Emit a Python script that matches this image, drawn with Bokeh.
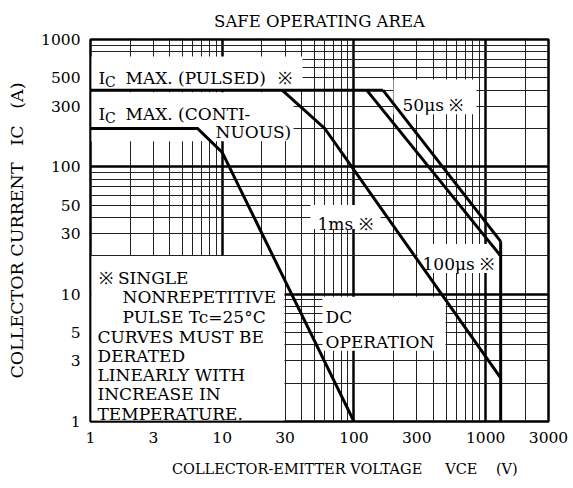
import math
from bokeh.plotting import figure
from bokeh.models import FixedTicker, CustomJSTickFormatter, Label
from bokeh.embed import file_html
from bokeh.resources import INLINE

# ---------------- data ----------------
x_ticks = [1, 3, 10, 30, 100, 300, 1000, 3000]
y_ticks = [1, 3, 5, 10, 30, 50, 100, 300, 500, 1000]
x_major_grid = [1, 10, 100, 1000]
x_minor_grid = [2, 3, 4, 5, 6, 7, 8, 9, 20, 30, 40, 50, 60, 70, 80, 90,
                200, 300, 400, 500, 600, 700, 800, 900, 2000]
y_major_grid = [1, 10, 100, 1000]
y_minor_grid = [2, 3, 4, 5, 6, 7, 8, 9, 20, 30, 40, 50, 60, 70, 80, 90,
                200, 300, 400, 500, 600, 700, 800, 900]

pulsed_v = [1, 166]
pulsed_a = [400, 400]
dc_v = [1, 6.5, 10, 100]
dc_a = [200, 200, 130, 1]
ms1_v = [28.5, 60, 1300]
ms1_a = [400, 200, 2.2]
us100_v = [125, 1300]
us100_a = [400, 20]
us50_v = [166, 1300]
us50_a = [400, 26]
vmax_v = [1300, 1300]
vmax_a = [1, 26]

# ---------------- layout ----------------
W, H = 573, 488
L, R, T, B = 90, 25, 38, 67
FW, FH = W - L - R, H - T - B
XDEC = math.log10(3000)
NB = "\u00a0"


def dx(xp):
    """canvas pixel x -> data x"""
    return 10 ** ((xp - L) / FW * XDEC)


def dy(yp):
    """canvas pixel y -> data y"""
    return 10 ** (3 - (yp - T) / FH * 3)


FONT = "DejaVu Serif"

p = figure(width=W, height=H, x_axis_type="log", y_axis_type="log",
           x_range=(1, 3000), y_range=(1, 1000),
           output_backend="svg", toolbar_location=None,
           min_border_left=L, min_border_right=R,
           min_border_top=T, min_border_bottom=B,
           title="SAFE OPERATING AREA")

p.title.align = "center"
p.title.offset = 3
p.title.text_font = FONT
p.title.text_font_size = "16.5px"
p.title.text_font_style = "normal"
p.title.text_color = "black"
p.title.standoff = 18

p.background_fill_color = "white"
p.border_fill_color = "white"
p.outline_line_color = "black"
p.outline_line_width = 2.5

fmt = CustomJSTickFormatter(code="return Math.round(tick).toString();")
for ax, ticks, stand in ((p.xaxis, x_ticks, 4), (p.yaxis, y_ticks, 4)):
    ax.ticker = FixedTicker(ticks=ticks)
    ax.formatter = fmt
    ax.axis_line_color = None
    ax.major_tick_line_color = None
    ax.minor_tick_line_color = None
    ax.major_label_text_font = FONT
    ax.major_label_text_font_size = "15.5px"
    ax.major_label_text_color = "black"
    ax.major_label_standoff = stand
    ax.axis_label_text_font = FONT
    ax.axis_label_text_font_style = "normal"
    ax.axis_label_text_color = "black"

p.xaxis.axis_label = (NB * 11 + "COLLECTOR-EMITTER VOLTAGE" + NB * 5 + "VCE"
                      + NB * 4 + "(V)")
p.xaxis.axis_label_text_font_size = "14.5px"
p.xaxis.axis_label_standoff = 15
p.yaxis.axis_label = "COLLECTOR CURRENT" + NB * 3 + "IC" + NB * 3 + "(A)"
p.yaxis.axis_label_text_font_size = "17.5px"
p.yaxis.axis_label_standoff = 11

p.xgrid.ticker = FixedTicker(ticks=x_major_grid, minor_ticks=x_minor_grid)
p.ygrid.ticker = FixedTicker(ticks=y_major_grid, minor_ticks=y_minor_grid)
for g in (p.xgrid, p.ygrid):
    g.grid_line_color = "black"
    g.grid_line_width = 2.5
    g.grid_line_alpha = 1
    g.minor_grid_line_color = "#222222"
    g.minor_grid_line_width = 1

# white label backgrounds (canvas pixel boxes)
boxes = [
    (91, 302, 55, 88),     # Ic max pulsed
    (91, 293, 91, 140),    # Ic max continuous
    (393, 476, 78, 113),   # 50us
    (310, 380, 204, 228),  # 1ms
    (417, 498, 243, 272),  # 100us
    (322, 445, 296, 350),  # DC operation
    (91, 284, 255, 420),   # note
]
p.quad(left=[dx(b[0]) for b in boxes], right=[dx(b[1]) for b in boxes],
       top=[dy(b[2]) for b in boxes], bottom=[dy(b[3]) for b in boxes],
       fill_color="white", line_color=None)

for xs, ys in ((pulsed_v, pulsed_a), (dc_v, dc_a), (ms1_v, ms1_a),
               (us100_v, us100_a), (us50_v, us50_a), (vmax_v, vmax_a)):
    p.line(xs, ys, line_color="black", line_width=3, line_join="miter")


def lab(text, xp, yp, size=17, align="left"):
    p.add_layout(Label(x=dx(xp), y=dy(yp), text=text, text_font=FONT,
                       text_font_size=f"{size}px", text_color="black",
                       text_align=align, text_baseline="alphabetic"))


# in-plot labels
lab("I", 98, 77)
lab("C", 104.5, 81, size=14)
lab("MAX. (PULSED)", 125, 77)
lab("※", 277, 77)
lab("I", 98, 113)
lab("C", 104.5, 117, size=14)
lab("MAX. (CONTI-", 125, 113)
lab("NUOUS)", 215, 131)
lab("50μs ※", 402, 104)
lab("1ms ※", 317, 223)
lab("100μs ※", 422, 263)
lab("DC", 325, 316)
lab("OPERATION", 325, 341)

note = [("※ SINGLE", 98, 277), ("NONREPETITIVE", 122, 296),
        ("PULSE Tc=25°C", 122, 316), ("CURVES MUST BE", 97, 336),
        ("DERATED", 97, 355), ("LINEARLY WITH", 97, 374),
        ("INCREASE IN", 97, 393), ("TEMPERATURE.", 97, 413)]
for t, xp, yp in note:
    lab(t, xp, yp)

open("out.html", "w").write(file_html(p, INLINE))
